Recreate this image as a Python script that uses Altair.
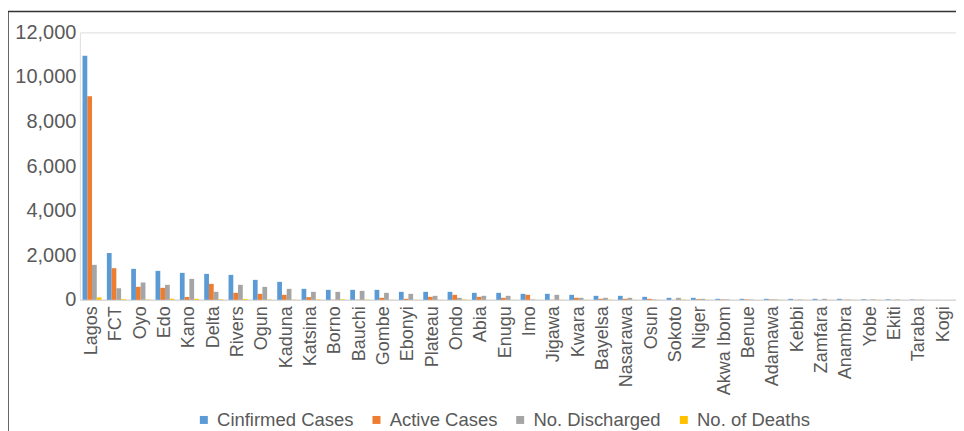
import altair as alt
import pandas as pd

states = ["Lagos", "FCT", "Oyo", "Edo", "Kano", "Delta", "Rivers", "Ogun", "Kaduna", "Katsina",
          "Borno", "Bauchi", "Gombe", "Ebonyi", "Plateau", "Ondo", "Abia", "Enugu", "Imo", "Jigawa",
          "Kwara", "Bayelsa", "Nasarawa", "Osun", "Sokoto", "Niger", "Akwa Ibom", "Benue", "Adamawa",
          "Kebbi", "Zamfara", "Anambra", "Yobe", "Ekiti", "Taraba", "Kogi"]

confirmed = [10950, 2100, 1390, 1300, 1210, 1165, 1120, 896, 807, 493,
             448, 448, 448, 359, 359, 359, 314, 314, 269, 269,
             224, 180, 180, 135, 90, 90, 45, 45, 45,
             45, 45, 45, 30, 25, 18, 2]
active = [9130, 1420, 583, 538, 130, 717, 314, 269, 224, 120,
          20, 10, 90, 45, 135, 224, 135, 90, 224, 10,
          90, 45, 45, 45, 5, 30, 20, 20, 20,
          5, 2, 10, 5, 5, 6, 0]
discharged = [1570, 520, 775, 672, 941, 359, 672, 583, 493, 359,
              359, 403, 314, 269, 180, 90, 180, 180, 20, 224,
              90, 90, 90, 20, 90, 45, 20, 15, 20,
              20, 45, 15, 25, 20, 12, 0]
deaths = [110, 30, 15, 50, 45, 25, 40, 15, 12, 20,
          25, 12, 5, 5, 8, 20, 3, 5, 5, 5,
          8, 12, 6, 4, 15, 5, 2, 1, 5,
          5, 5, 4, 7, 2, 0, 0]

series_names = ["Cinfirmed Cases", "Active Cases", "No. Discharged", "No. of Deaths"]
series_colors = ["#5B9BD5", "#ED7D31", "#A5A5A5", "#FFC000"]
y_ticks = [0, 2000, 4000, 6000, 8000, 10000, 12000]

rows = []
for name, vals in zip(series_names, [confirmed, active, discharged, deaths]):
    for s, v in zip(states, vals):
        rows.append({"State": s, "Series": name, "Value": v})
df = pd.DataFrame(rows)

W, H = 878, 268
FONT = "Liberation Sans"
TXT = "#595959"

bars = alt.Chart(df).mark_bar().encode(
    x=alt.X("State:N", sort=states, title=None,
            scale=alt.Scale(paddingInner=0.22, paddingOuter=0.11),
            axis=alt.Axis(labelAngle=-90, labelFontSize=18, labelColor=TXT, labelFont=FONT,
                          ticks=False, domainColor="#D9D9D9", domainWidth=1.5,
                          labelPadding=6, labelAlign="right", labelBaseline="middle")),
    xOffset=alt.XOffset("Series:N", sort=series_names,
                        scale=alt.Scale(paddingInner=0, paddingOuter=0)),
    y=alt.Y("Value:Q", title=None,
            scale=alt.Scale(domain=[0, 12000], nice=False),
            axis=alt.Axis(values=y_ticks, format=",d", labelFontSize=20, labelColor=TXT,
                          labelFont=FONT, ticks=False, domain=False, grid=False,
                          labelPadding=4)),
    color=alt.Color("Series:N", sort=series_names,
                    scale=alt.Scale(domain=series_names, range=series_colors),
                    legend=alt.Legend(title=None, orient="none", direction="horizontal",
                                      legendX=115, legendY=379, symbolType="square",
                                      symbolSize=64, symbolStrokeWidth=0, labelFontSize=18.5,
                                      labelColor=TXT, labelFont=FONT, labelOffset=4,
                                      columnPadding=13, padding=0)),
)

border_v = alt.Chart(pd.DataFrame({"k": [0]})).mark_rule(color="#333333", strokeWidth=1.5).encode(
    x=alt.value(-72), y=alt.value(-21), y2=alt.value(420))
border_h = alt.Chart(pd.DataFrame({"k": [0]})).mark_rule(color="#333333", strokeWidth=1.5).encode(
    x=alt.value(-72), x2=alt.value(890), y=alt.value(-21))

chart = alt.layer(bars, border_v, border_h).properties(
    width=W, height=H,
    autosize=alt.AutoSizeParams(type="none"),
    padding={"left": 72, "top": 24, "right": 0, "bottom": 131},
).configure_view(stroke=None).configure(background="white")

chart.save("out.html", embed_options={"renderer": "svg", "actions": False})
